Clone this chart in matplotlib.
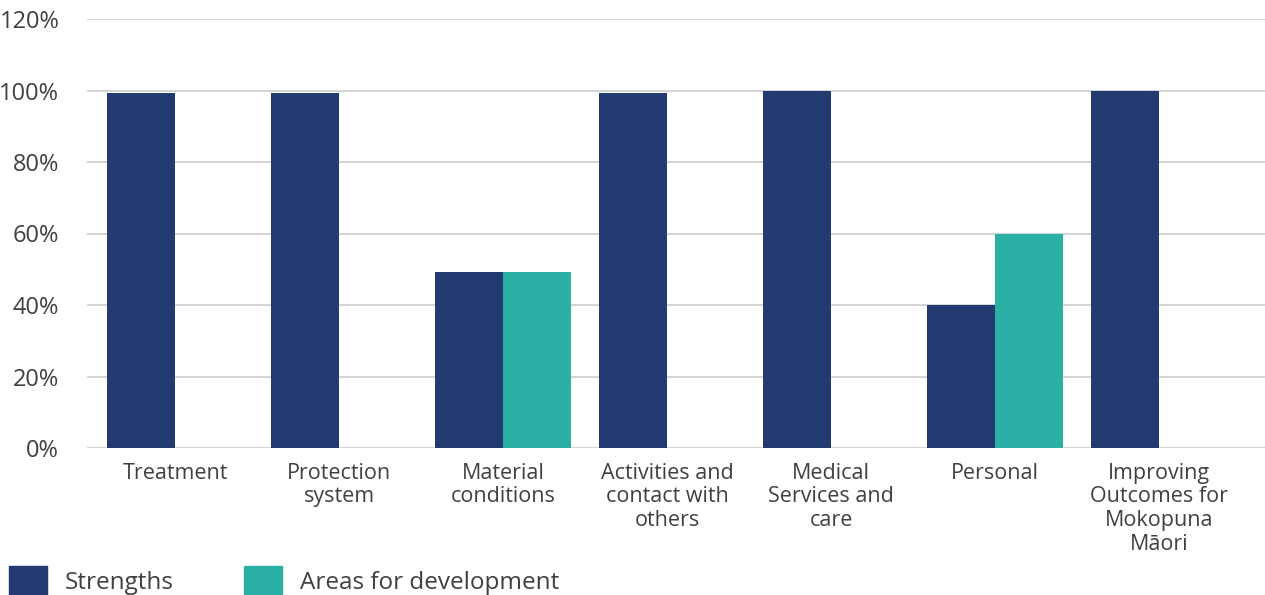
import numpy as np
import matplotlib
matplotlib.use("Agg")
import matplotlib.pyplot as plt
from matplotlib.patches import Patch

plt.rcParams['font.family'] = ['Open Sans', 'DejaVu Sans']

categories = ["Treatment", "Protection\nsystem", "Material\nconditions",
              "Activities and\ncontact with\nothers", "Medical\nServices and\ncare",
              "Personal", "Improving\nOutcomes for\nMokopuna\nMāori"]
strengths = [99.4, 99.4, 49.2, 99.4, 100, 40, 99.8]
development = [0, 0, 49.2, 0, 0, 60, 0]
yticks = [0, 20, 40, 60, 80, 100, 120]

navy = "#233A70"
teal = "#2AB0A5"
txt = "#404040"

fig = plt.figure(figsize=(12.65, 5.95), dpi=100)
ax = fig.add_axes([87/1265, 1-448/595, 1-87/1265, (448-19)/595])

x = np.arange(len(categories))
w = 0.415
ax.bar(x - w/2, strengths, w, color=navy, zorder=3)
ax.bar(x + w/2, development, w, color=teal, zorder=3)

ax.set_ylim(0, 120)
ax.set_xlim(-0.537, 6.646)
ax.set_yticks(yticks)
ax.set_yticklabels([f"{v}%" for v in yticks])
ax.set_xticks(x)
ax.set_xticklabels(categories, linespacing=1.17)
ax.grid(axis='y', color="#d0d0d0", linewidth=1.3, zorder=0)
for s in ax.spines.values():
    s.set_visible(False)
ax.tick_params(axis='y', length=0, pad=20, labelsize=17, labelcolor=txt)
ax.tick_params(axis='x', length=0, pad=10.5, labelsize=15.5, labelcolor=txt)

handles = [Patch(color=navy, label="Strengths"),
           Patch(color=teal, label="Areas for development")]
fig.legend(handles=handles, loc='lower left', bbox_to_anchor=(9/1265, 0),
           ncol=2, frameon=False, fontsize=17.5, labelcolor=txt,
           handlelength=1.56, handleheight=1.44, handletextpad=0.74,
           columnspacing=2.9, borderpad=0, borderaxespad=0)

fig.savefig("out.png", dpi=100)
